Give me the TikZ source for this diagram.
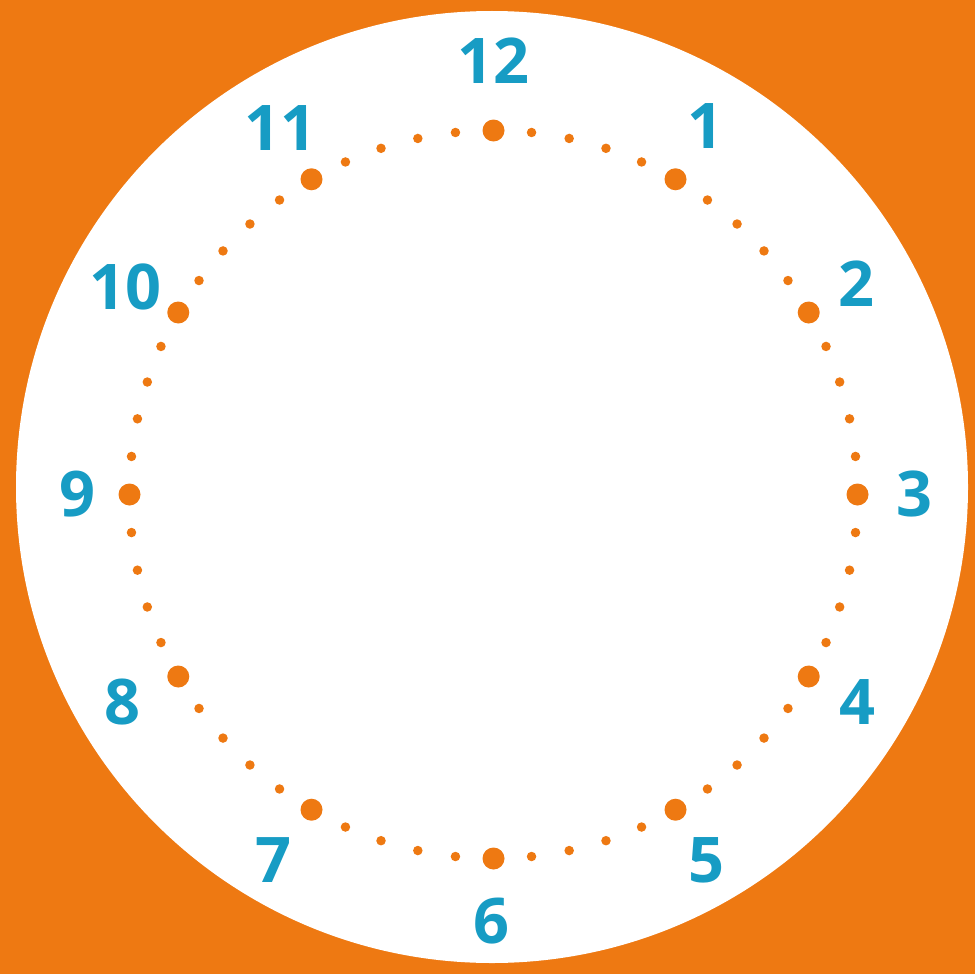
\documentclass[tikz,border=0pt]{standalone}
\usepackage{fontspec}
\setmainfont{Open Sans}
\usetikzlibrary{calc}
\definecolor{clockorange}{HTML}{EE7912}
\definecolor{clockblue}{HTML}{179CC4}
\begin{document}
\begin{tikzpicture}[x=1pt,y=-1pt,
  hourdot/.style={circle,fill=clockorange,inner sep=0pt,minimum size=22pt},
  mindot/.style={circle,fill=clockorange,inner sep=0pt,minimum size=9.5pt},
  numlabel/.style={text=clockblue,font=\fontsize{63}{63}\selectfont\bfseries,inner sep=0pt,anchor=center}]
\fill[clockorange] (0,0) rectangle (975,974);
\useasboundingbox (0,0) rectangle (975,974);
\fill[white] (492,487) circle[radius=476];
\coordinate (c) at (493.5,494.5);
\foreach \m in {0,...,59}{
  \pgfmathtruncatemacro{\r}{mod(\m,5)}
  \ifnum\r=0
    \node[hourdot] (d\m) at ($(c)+({364*sin(6*\m)},{-364*cos(6*\m)})$) {};
  \else
    \node[mindot] (d\m) at ($(c)+({364*sin(6*\m)},{-364*cos(6*\m)})$) {};
  \fi
}
\node[numlabel] (n12) at (493,61) {12};
\node[numlabel] (n1) at (705,126) {1};
\node[numlabel] (n2) at (856,284) {2};
\node[numlabel] (n3) at (914,494) {3};
\node[numlabel] (n4) at (857,702) {4};
\node[numlabel] (n5) at (706,860) {5};
\node[numlabel] (n6) at (491,921) {6};
\node[numlabel] (n7) at (273,860) {7};
\node[numlabel] (n8) at (122,702) {8};
\node[numlabel] (n9) at (77,494) {9};
\node[numlabel] (n10) at (125,287) {10};
\node[numlabel] (n11) at (280,128) {11};
\end{tikzpicture}
\end{document}
